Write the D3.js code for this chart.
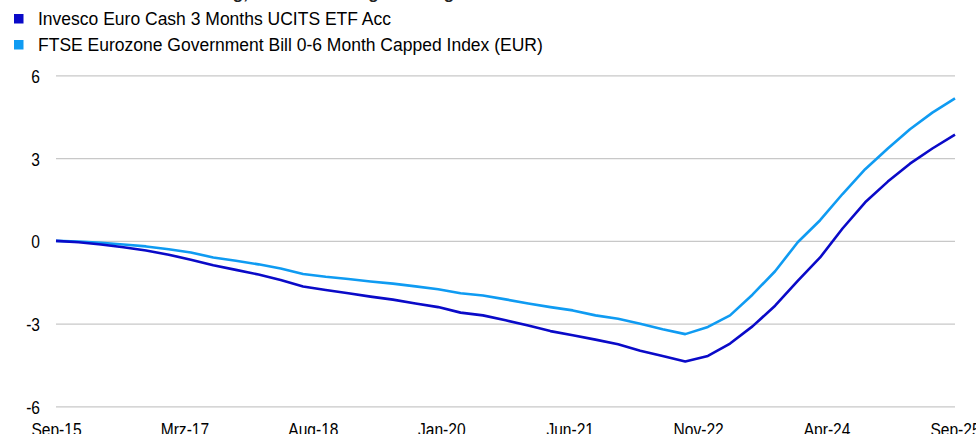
<!DOCTYPE html>
<html>
<head>
<meta charset="utf-8">
<script src="https://cdn.jsdelivr.net/npm/d3@7"></script>
<style>
  body { margin: 0; background: #fff; }
  svg { display: block; font-family: "Liberation Sans", Arial, sans-serif; }
</style>
</head>
<body>
<svg id="chart"></svg>
<script>
// Quarter-end dates, Sep 2015 .. Sep 2025
const dates = [
  "2015-09-30", "2015-12-31", "2016-03-31", "2016-06-30", "2016-09-30", "2016-12-31",
  "2017-03-31", "2017-06-30", "2017-09-30", "2017-12-31", "2018-03-31", "2018-06-30",
  "2018-09-30", "2018-12-31", "2019-03-31", "2019-06-30", "2019-09-30", "2019-12-31",
  "2020-03-31", "2020-06-30", "2020-09-30", "2020-12-31", "2021-03-31", "2021-06-30",
  "2021-09-30", "2021-12-31", "2022-03-31", "2022-06-30", "2022-09-30", "2022-12-31",
  "2023-03-31", "2023-06-30", "2023-09-30", "2023-12-31", "2024-03-31", "2024-06-30",
  "2024-09-30", "2024-12-31", "2025-03-31", "2025-06-30", "2025-09-30"
];

// Invesco Euro Cash 3 Months UCITS ETF Acc (cumulative %)
const fundValues = [
  0, -0.05, -0.13, -0.23, -0.35, -0.5, -0.68, -0.88, -1.05, -1.22, -1.42, -1.65,
  -1.78, -1.9, -2.02, -2.13, -2.27, -2.4, -2.6, -2.7, -2.88, -3.07, -3.27, -3.42,
  -3.58, -3.75, -3.98, -4.17, -4.37, -4.17, -3.72, -3.1, -2.35, -1.45, -0.6, 0.45,
  1.4, 2.15, 2.8, 3.35, 3.85
];

// FTSE Eurozone Government Bill 0-6 Month Capped Index (EUR)
const indexValues = [
  0, -0.02, -0.07, -0.13, -0.2, -0.3, -0.42, -0.6, -0.72, -0.85, -1.0, -1.2,
  -1.3, -1.38, -1.47, -1.55, -1.65, -1.75, -1.9, -1.98, -2.12, -2.27, -2.4, -2.52,
  -2.7, -2.82, -3.0, -3.2, -3.38, -3.12, -2.7, -1.95, -1.1, -0.05, 0.75, 1.7,
  2.6, 3.35, 4.05, 4.65, 5.17
];

const seriesNames = [
  "Invesco Euro Cash 3 Months UCITS ETF Acc",
  "FTSE Eurozone Government Bill 0-6 Month Capped Index (EUR)"
];
const seriesColors = ["#0a0ac8", "#0f9bf2"];

const tickLabels = ["Sep-15", "Mrz-17", "Aug-18", "Jan-20", "Jun-21", "Nov-22", "Apr-24", "Sep-25"];
const yTicks = [-6, -3, 0, 3, 6];

const titleText = "Kumulierte Wertentwicklung, in % seit Auflage im Vergleich zum Referenzindex";

// Chart dimensions
const width = 976;
const height = 434;
const plotLeft = 56;
const plotRight = 955;
const plotTop = 75.4;
const plotBottom = 406.4;

const svg = d3.select("#chart").attr("width", width).attr("height", height);

const parse = d3.timeParse("%Y-%m-%d");
const dateObjs = dates.map(parse);

const x = d3.scaleTime()
  .domain(d3.extent(dateObjs))
  .range([plotLeft, plotRight]);

const y = d3.scaleLinear()
  .domain([-6, 6])
  .range([plotBottom, plotTop]);

const color = d3.scaleOrdinal().domain(seriesNames).range(seriesColors);

// title, mostly above the visible area
svg.append("text")
  .attr("x", 14)
  .attr("y", -1.5)
  .style("font-size", "17px")
  .style("font-weight", "bold")
  .style("fill", "#222")
  .text(titleText);

// Legend
const legend = svg.selectAll(".legend")
  .data(seriesNames)
  .enter()
  .append("g")
  .attr("class", "legend")
  .attr("transform", (d, i) => `translate(14, ${14 + i * 26})`);

legend.append("rect")
  .attr("width", 9.5)
  .attr("height", 9.5)
  .attr("fill", (d) => color(d));

legend.append("text")
  .attr("x", 24)
  .attr("y", 11)
  .style("font-size", "17.5px")
  .style("fill", "#000")
  .text((d) => d);

// Y axis with gridlines
const yAxis = svg.append("g")
  .attr("transform", `translate(${plotLeft},0)`)
  .call(d3.axisLeft(y).tickValues(yTicks).tickSize(-(plotRight - plotLeft)).tickFormat((d) => String(d)));

yAxis.select(".domain").remove();
yAxis.selectAll("line").attr("stroke", "#c8c8c8").attr("stroke-width", 1.4);
yAxis.selectAll("text")
  .attr("x", -16 / 0.82)
  .attr("dy", "0.36em")
  .attr("transform", "scale(0.82,1)")
  .style("font-size", "19px")
  .style("font-family", "'Liberation Sans', Arial, sans-serif")
  .style("fill", "#000");

// X axis, labels evenly spread over the time range
const t0 = x.domain()[0].getTime();
const t1 = x.domain()[1].getTime();
const tickDates = tickLabels.map((_, k) => new Date(t0 + (k * (t1 - t0)) / (tickLabels.length - 1)));

const xAxis = svg.append("g")
  .attr("transform", `translate(0,${plotBottom})`)
  .call(d3.axisBottom(x)
    .tickValues(tickDates)
    .tickSize(0)
    .tickPadding(16)
    .tickFormat((d, i) => tickLabels[i]));

xAxis.select(".domain").remove();
xAxis.selectAll("text")
  .attr("transform", "scale(0.82,1)")
  .style("font-size", "19px")
  .style("font-family", "'Liberation Sans', Arial, sans-serif")
  .style("fill", "#000");

// Lines
const line = d3.line()
  .x((d) => x(d.date))
  .y((d) => y(d.value));

const series = [fundValues, indexValues].map((vals, i) => ({
  name: seriesNames[i],
  values: vals.map((v, j) => ({ date: dateObjs[j], value: v }))
}));

svg.selectAll(".series")
  .data(series.slice().reverse())
  .enter()
  .append("path")
  .attr("class", "series")
  .attr("fill", "none")
  .attr("stroke", (d) => color(d.name))
  .attr("stroke-width", 2.6)
  .attr("stroke-linejoin", "round")
  .attr("d", (d) => line(d.values));
</script>
</body>
</html>
